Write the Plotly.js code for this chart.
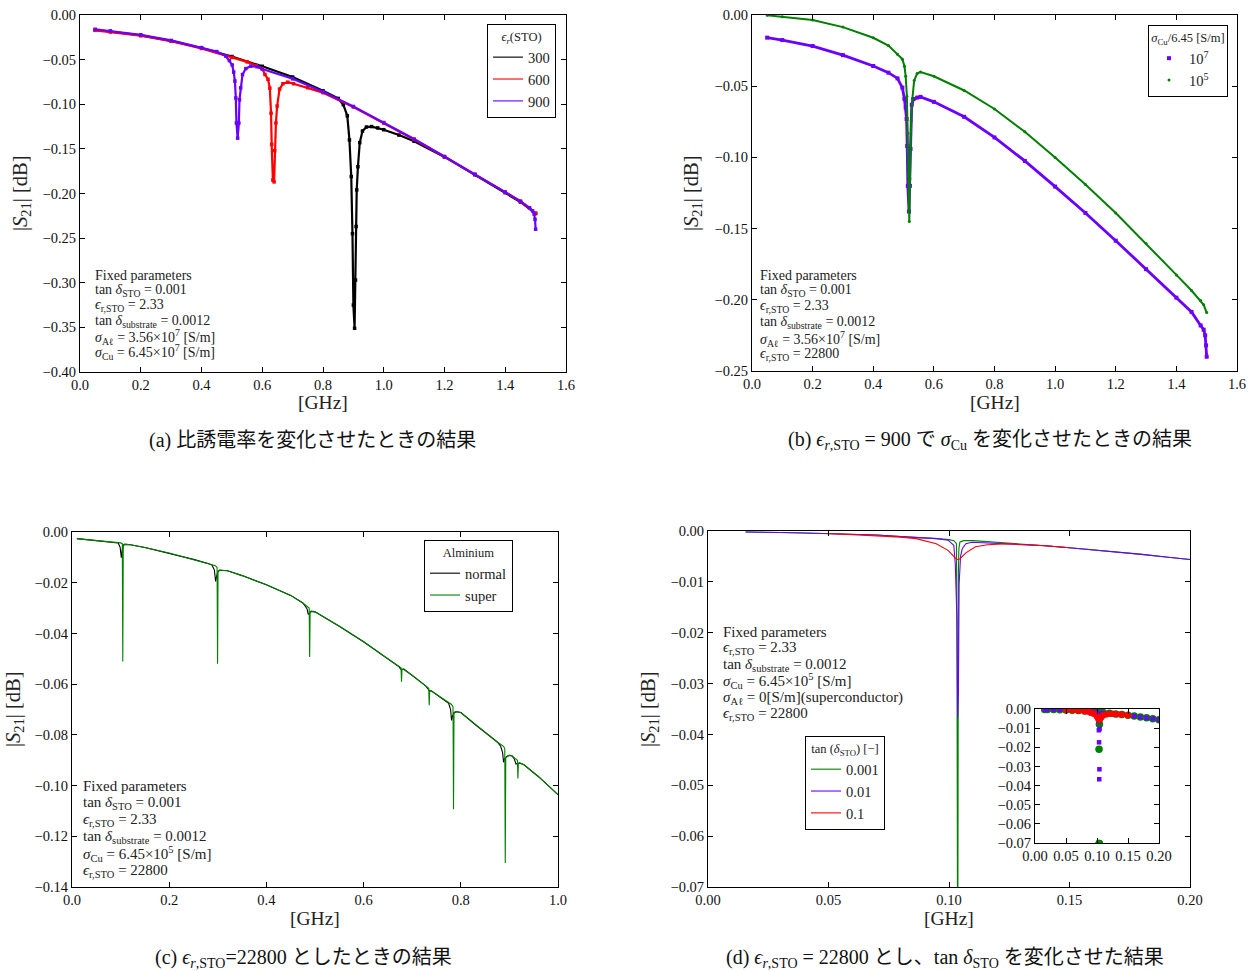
<!DOCTYPE html>
<html>
<head>
<meta charset="utf-8">
<script src="https://cdn.plot.ly/plotly-3.0.1.min.js"></script>
<style>
html,body{margin:0;padding:0;background:#fff;}
#chart{width:1253px;height:971px;}
</style>
</head>
<body>
<div id="chart"></div>
<script>
// ---------- Panel (a): varying eps_r(STO) ----------
const aBlackX = [0.05,0.1,0.2,0.3,0.4,0.5,0.6,0.7,0.8,0.85,0.867,0.880,0.887,0.893,0.897,0.900,0.904,0.907,0.909,0.911,0.915,0.921,0.930,0.943,0.960,0.980,1.0,1.05,1.1,1.2,1.3,1.4,1.45,1.5];
const aBlackY = [-0.0168,-0.0185,-0.0228,-0.0290,-0.0370,-0.0465,-0.0575,-0.0695,-0.0850,-0.0935,-0.1005,-0.1130,-0.1400,-0.1810,-0.2450,-0.3250,-0.3510,-0.2970,-0.2370,-0.1960,-0.1700,-0.1430,-0.1300,-0.1255,-0.1250,-0.1265,-0.1285,-0.1345,-0.1415,-0.1590,-0.1790,-0.1990,-0.2095,-0.2225];
const aRedX = [0.05,0.1,0.2,0.3,0.4,0.5,0.55,0.58,0.6,0.609,0.619,0.625,0.629,0.631,0.635,0.639,0.641,0.645,0.649,0.657,0.668,0.684,0.703,0.75,0.8,0.9,1.0,1.1,1.2,1.3,1.4,1.45,1.5];
const aRedY = [-0.0172,-0.0190,-0.0232,-0.0293,-0.0375,-0.0475,-0.0525,-0.0565,-0.0600,-0.0667,-0.0720,-0.0820,-0.1100,-0.1450,-0.1850,-0.1870,-0.1520,-0.1210,-0.1020,-0.0830,-0.0770,-0.0753,-0.0770,-0.0815,-0.0870,-0.1030,-0.1210,-0.1395,-0.1590,-0.1785,-0.1985,-0.2090,-0.2220];
const aPurpleX = [0.05,0.1,0.2,0.3,0.4,0.45,0.48,0.492,0.501,0.506,0.510,0.513,0.515,0.519,0.523,0.525,0.529,0.535,0.546,0.562,0.583,0.6,0.7,0.8,0.9,1.0,1.1,1.2,1.3,1.4,1.45,1.48,1.49,1.495,1.498,1.5];
const aPurpleY = [-0.0160,-0.0178,-0.0222,-0.0285,-0.0365,-0.0410,-0.0460,-0.0510,-0.0560,-0.0640,-0.0740,-0.0930,-0.1210,-0.1380,-0.1210,-0.0950,-0.0816,-0.0667,-0.0600,-0.0573,-0.0580,-0.0605,-0.0715,-0.0860,-0.1025,-0.1205,-0.1390,-0.1585,-0.1785,-0.1985,-0.2085,-0.2160,-0.2195,-0.2230,-0.2290,-0.2400];
const aNames = ['300','600','900'];

// ---------- Panel (b): eps=900, varying sigma_Cu ----------
const bPurpleX = [0.05,0.1,0.2,0.3,0.4,0.45,0.48,0.496,0.503,0.507,0.510,0.512,0.514,0.518,0.521,0.523,0.527,0.533,0.545,0.556,0.6,0.7,0.8,0.9,1.0,1.1,1.2,1.3,1.4,1.45,1.48,1.49,1.495,1.498,1.5];
const bPurpleY = [-0.0159,-0.0176,-0.0218,-0.0282,-0.0358,-0.0405,-0.0445,-0.0510,-0.0590,-0.0650,-0.0730,-0.0920,-0.1200,-0.1380,-0.1200,-0.0940,-0.0630,-0.0590,-0.0580,-0.0575,-0.0610,-0.0715,-0.0860,-0.1025,-0.1205,-0.1390,-0.1585,-0.1785,-0.1985,-0.2085,-0.2180,-0.2210,-0.2250,-0.2320,-0.2400];
const bGreenX = [0.05,0.1,0.2,0.3,0.4,0.45,0.48,0.496,0.503,0.507,0.511,0.514,0.516,0.519,0.521,0.523,0.525,0.529,0.535,0.545,0.556,0.6,0.7,0.8,0.9,1.0,1.1,1.2,1.3,1.4,1.45,1.48,1.49,1.5];
const bGreenY = [-0.0002,-0.0012,-0.0035,-0.0085,-0.0160,-0.0215,-0.0276,-0.0310,-0.0360,-0.0430,-0.0570,-0.0830,-0.1130,-0.1450,-0.1150,-0.0920,-0.0745,-0.0590,-0.0460,-0.0410,-0.0400,-0.0430,-0.0530,-0.0660,-0.0820,-0.1000,-0.1190,-0.1390,-0.1605,-0.1825,-0.1935,-0.2005,-0.2035,-0.2090];
const bNames = ['10<sup>7</sup>','10<sup>5</sup>'];

// ---------- Panel (c): eps=22800, normal vs super Al ----------
const cNormalX = [0.010,0.05,0.09,0.095,0.099,0.1015,0.1035,0.106,0.110,0.12,0.15,0.2,0.25,0.28,0.288,0.293,0.2955,0.2975,0.300,0.304,0.32,0.35,0.4,0.45,0.475,0.480,0.484,0.486,0.488,0.492,0.5,0.55,0.6,0.65,0.67,0.673,0.676,0.679,0.683,0.70,0.725,0.729,0.733,0.736,0.740,0.75,0.77,0.775,0.779,0.781,0.783,0.787,0.792,0.80,0.83,0.86,0.875,0.882,0.886,0.888,0.890,0.894,0.898,0.905,0.910,0.9135,0.916,0.920,0.93,0.96,1.0];
const cNormalY = [-0.0026,-0.0033,-0.0040,-0.0043,-0.0060,-0.0101,-0.0068,-0.0052,-0.0049,-0.0050,-0.0061,-0.0083,-0.0108,-0.0124,-0.0130,-0.0150,-0.0195,-0.0175,-0.0157,-0.0151,-0.0153,-0.0172,-0.0208,-0.0250,-0.0280,-0.0292,-0.0305,-0.0325,-0.0320,-0.0313,-0.0315,-0.0372,-0.0433,-0.0500,-0.0525,-0.0532,-0.0540,-0.0542,-0.0541,-0.0565,-0.0603,-0.0610,-0.0622,-0.0627,-0.0627,-0.0640,-0.0668,-0.0676,-0.0700,-0.0743,-0.0725,-0.0712,-0.0709,-0.0712,-0.0760,-0.0805,-0.0828,-0.0845,-0.0870,-0.0908,-0.0895,-0.0886,-0.0882,-0.0882,-0.0895,-0.0915,-0.0913,-0.0911,-0.0918,-0.0965,-0.1036];
const cSuperX = [0.010,0.05,0.09,0.100,0.1035,0.1045,0.1055,0.108,0.12,0.15,0.2,0.25,0.28,0.295,0.2985,0.2995,0.3005,0.303,0.32,0.35,0.4,0.45,0.475,0.485,0.488,0.489,0.490,0.493,0.5,0.55,0.6,0.65,0.67,0.675,0.677,0.678,0.679,0.681,0.70,0.725,0.732,0.734,0.735,0.736,0.738,0.75,0.77,0.781,0.784,0.785,0.786,0.789,0.80,0.83,0.86,0.875,0.888,0.8905,0.8915,0.8925,0.896,0.90,0.905,0.914,0.9165,0.9175,0.9185,0.921,0.93,0.96,1.0];
const cSuperY = [-0.0026,-0.0033,-0.0040,-0.0043,-0.0046,-0.0511,-0.0050,-0.0048,-0.0050,-0.0061,-0.0083,-0.0108,-0.0124,-0.0133,-0.0140,-0.0520,-0.0155,-0.0150,-0.0153,-0.0172,-0.0208,-0.0250,-0.0280,-0.0295,-0.0300,-0.0493,-0.0315,-0.0312,-0.0315,-0.0372,-0.0433,-0.0500,-0.0525,-0.0533,-0.0536,-0.0590,-0.0542,-0.0540,-0.0565,-0.0603,-0.0612,-0.0616,-0.0683,-0.0628,-0.0625,-0.0640,-0.0668,-0.0680,-0.0690,-0.1093,-0.0712,-0.0708,-0.0712,-0.0760,-0.0805,-0.0828,-0.0845,-0.0855,-0.1305,-0.0890,-0.0885,-0.0880,-0.0882,-0.0895,-0.0900,-0.0972,-0.0914,-0.0910,-0.0918,-0.0965,-0.1036];
const cNames = ['normal','super'];

// ---------- Panel (d): eps=22800, varying tan delta_STO ----------
const dGreenX = [0.0156,0.02,0.03,0.04,0.05,0.06,0.07,0.08,0.09,0.095,0.100,0.102,0.1031,0.1033,0.1035,0.1037,0.1039,0.1041,0.1045,0.106,0.11,0.12,0.13,0.14,0.15,0.16,0.17,0.18,0.19,0.20];
const dGreenY = [-0.0002,-0.0002,-0.0003,-0.0004,-0.0005,-0.0007,-0.0008,-0.0011,-0.0013,-0.0015,-0.0017,-0.0019,-0.0025,-0.0210,-0.0702,-0.0702,-0.0080,-0.0035,-0.0022,-0.0019,-0.0019,-0.0022,-0.0026,-0.0029,-0.0033,-0.0037,-0.0042,-0.0046,-0.0051,-0.0056];
const dBlueX = [0.0156,0.02,0.03,0.04,0.05,0.06,0.07,0.08,0.09,0.095,0.0996,0.102,0.1026,0.1030,0.1033,0.1036,0.1039,0.1042,0.1048,0.1055,0.107,0.1095,0.115,0.12,0.13,0.14,0.15,0.16,0.17,0.18,0.19,0.20];
const dBlueY = [-0.0002,-0.0002,-0.0003,-0.0004,-0.0005,-0.0007,-0.0008,-0.0011,-0.0013,-0.0015,-0.0018,-0.0028,-0.0064,-0.0111,-0.0174,-0.0367,-0.0315,-0.0104,-0.0050,-0.0035,-0.0025,-0.0022,-0.0023,-0.0024,-0.0026,-0.0029,-0.0033,-0.0037,-0.0042,-0.0046,-0.0051,-0.0056];
const dRedX = [0.05,0.06,0.07,0.08,0.0864,0.09,0.0947,0.0996,0.102,0.1032,0.1045,0.107,0.111,0.116,0.124,0.1325,0.14,0.15];
const dRedY = [-0.0005,-0.0007,-0.0009,-0.0012,-0.0015,-0.0019,-0.0025,-0.0038,-0.0050,-0.0056,-0.0055,-0.0043,-0.0031,-0.0027,-0.0025,-0.0027,-0.0029,-0.0033];
const dNames = ['0.001','0.01','0.1'];

// ---------- Texts ----------
const aNote = ['Fixed parameters','tan <i>δ</i><sub>STO</sub> = 0.001','<i>ϵ</i><sub>r,STO</sub> = 2.33','tan <i>δ</i><sub>substrate</sub> = 0.0012','<i>σ</i><sub>Aℓ</sub> = 3.56×10<sup>7</sup> [S/m]','<i>σ</i><sub>Cu</sub> = 6.45×10<sup>7</sup> [S/m]'];
const bNote = ['Fixed parameters','tan <i>δ</i><sub>STO</sub> = 0.001','<i>ϵ</i><sub>r,STO</sub> = 2.33','tan <i>δ</i><sub>substrate</sub> = 0.0012','<i>σ</i><sub>Aℓ</sub> = 3.56×10<sup>7</sup> [S/m]','<i>ϵ</i><sub>r,STO</sub> = 22800'];
const cNote = ['Fixed parameters','tan <i>δ</i><sub>STO</sub> = 0.001','<i>ϵ</i><sub>r,STO</sub> = 2.33','tan <i>δ</i><sub>substrate</sub> = 0.0012','<i>σ</i><sub>Cu</sub> = 6.45×10<sup>5</sup> [S/m]','<i>ϵ</i><sub>r,STO</sub> = 22800'];
const dNote = ['Fixed parameters','<i>ϵ</i><sub>r,STO</sub> = 2.33','tan <i>δ</i><sub>substrate</sub> = 0.0012','<i>σ</i><sub>Cu</sub> = 6.45×10<sup>5</sup> [S/m]','<i>σ</i><sub>Aℓ</sub> = 0[S/m](superconductor)','<i>ϵ</i><sub>r,STO</sub> = 22800'];
const captions = [
  '(a) 比誘電率を変化させたときの結果',
  '(b) <i>ϵ</i><sub><i>r</i>,STO</sub> = 900 で <i>σ</i><sub>Cu</sub> を変化させたときの結果',
  '(c) <i>ϵ</i><sub><i>r</i>,STO</sub>=22800 としたときの結果',
  '(d) <i>ϵ</i><sub><i>r</i>,STO</sub> = 22800 とし、tan <i>δ</i><sub>STO</sub> を変化させた結果'
];
const yTitle = '|<i>S</i><sub>21</sub>| [dB]';
const xTitle = '[GHz]';

// ---------- Layout helpers ----------
const W = 1253, H = 971;
const FONT = 'Liberation Serif, DejaVu Serif, Noto Sans CJK JP, serif';
const CAPFONT = 'Liberation Serif, Noto Sans CJK JP, serif';
const PURPLE = '#6a00ff', GREEN = '#007f00', RED = '#ff0000';
const dxp = (l, r) => [l / W, r / W];
const dyp = (t, b) => [1 - b / H, 1 - t / H];
function axis(domain, range, dtick, fmt, anchor) {
  return {domain, range, dtick, tick0: 0, tickformat: fmt, anchor,
    showline: true, linecolor: 'black', linewidth: 1, mirror: 'ticks',
    ticks: 'inside', ticklen: 5, tickwidth: 1, tickcolor: 'black',
    showgrid: false, zeroline: false, fixedrange: true,
    tickfont: {family: FONT, size: 14.5, color: '#111'}};
}
function ann(px, py, text, size, opts) {
  return Object.assign({xref: 'paper', yref: 'paper', x: px / W, y: 1 - py / H, text,
    showarrow: false, xanchor: 'left', yanchor: 'middle',
    font: {family: FONT, size: size, color: '#222'}}, opts || {});
}

const traces = [];
// (a)
const aX = [aBlackX, aRedX, aPurpleX], aY = [aBlackY, aRedY, aPurpleY], aC = ['black', RED, PURPLE];
for (let i = 0; i < 3; i++) {
  traces.push({x: aX[i], y: aY[i], xaxis: 'x', yaxis: 'y', mode: 'lines+markers', showlegend: false,
    line: {color: aC[i], width: 2.2}, marker: {symbol: 'square', size: 3.5, color: aC[i]}});
}
for (let i = 0; i < 3; i++) {
  traces.push({x: [null], y: [null], xaxis: 'x', yaxis: 'y', mode: 'lines', name: aNames[i], legend: 'legend',
    line: {color: aC[i], width: 1.5}, opacity: 0.75});
}
// (b)
traces.push({x: bPurpleX, y: bPurpleY, xaxis: 'x2', yaxis: 'y2', mode: 'lines+markers', showlegend: false,
  line: {color: PURPLE, width: 2.8}, marker: {symbol: 'square', size: 4, color: PURPLE}});
traces.push({x: bGreenX, y: bGreenY, xaxis: 'x2', yaxis: 'y2', mode: 'lines+markers', showlegend: false,
  line: {color: GREEN, width: 2}, marker: {symbol: 'circle', size: 3, color: GREEN}});
traces.push({x: [null], y: [null], xaxis: 'x2', yaxis: 'y2', mode: 'markers', name: bNames[0], legend: 'legend2',
  marker: {symbol: 'square', size: 4, color: PURPLE}});
traces.push({x: [null], y: [null], xaxis: 'x2', yaxis: 'y2', mode: 'markers', name: bNames[1], legend: 'legend2',
  marker: {symbol: 'circle', size: 3, color: GREEN}});
// (c)
traces.push({x: cNormalX, y: cNormalY, xaxis: 'x3', yaxis: 'y3', mode: 'lines', name: cNames[0], legend: 'legend3',
  line: {color: 'black', width: 1.1}});
traces.push({x: cSuperX, y: cSuperY, xaxis: 'x3', yaxis: 'y3', mode: 'lines', name: cNames[1], legend: 'legend3',
  line: {color: GREEN, width: 1.1}});
// (d) main
const dX = [dGreenX, dBlueX, dRedX], dY = [dGreenY, dBlueY, dRedY], dC = [GREEN, PURPLE, RED];
for (let i = 0; i < 3; i++) {
  traces.push({x: dX[i], y: dY[i], xaxis: 'x4', yaxis: 'y4', mode: 'lines', name: dNames[i], legend: 'legend4',
    line: {color: dC[i], width: 1.1}});
}
// (d) inset
const dSym = ['circle', 'square', 'circle'], dSize = [7.5, 4.5, 6.5];
for (let i = 0; i < 3; i++) {
  traces.push({x: dX[i], y: dY[i], xaxis: 'x5', yaxis: 'y5', mode: 'markers', showlegend: false,
    marker: {symbol: dSym[i], size: dSize[i], color: dC[i]}});
}

function legendCfg(x, y, xanchor, title) {
  return {x: x / W, y: 1 - y / H, xanchor, yanchor: 'top', xref: 'paper', yref: 'paper',
    bgcolor: 'white', bordercolor: 'black', borderwidth: 1,
    font: {family: FONT, size: 14.5, color: '#222'}, itemwidth: 30, tracegroupgap: 0,
    title: {text: title, side: 'top center', font: {family: FONT, size: 12.5, color: '#222'}}};
}

const annotations = [];
const noteCfg = [[aNote, 93, 275, 15.4, 14], [bNote, 758, 275, 15.9, 14], [cNote, 81, 786, 16.9, 15], [dNote, 721, 632, 16.4, 15]];
noteCfg.forEach(([lines, x0, y0, dyv, fs]) => lines.forEach((t, k) => annotations.push(ann(x0, y0 + k * dyv, t, fs))));
// axis titles
[[22, 193], [693, 193], [14, 709], [649, 709]].forEach(([x, y]) =>
  annotations.push(ann(x, y, yTitle, 20.5, {xanchor: 'center', textangle: -90})));
[[323, 403], [995, 403], [315, 918], [949, 918]].forEach(([x, y]) =>
  annotations.push(ann(x, y, xTitle, 19.5, {xanchor: 'center'})));
// captions
[[312, 441], [990, 441], [303, 958], [945, 958]].forEach(([x, y], k) =>
  annotations.push(ann(x, y, captions[k], 20, {xanchor: 'center', font: {family: CAPFONT, size: 20, color: '#111'}})));

const layout = {
  width: W, height: H, margin: {l: 0, r: 0, t: 0, b: 0},
  paper_bgcolor: 'white', plot_bgcolor: 'white', showlegend: true,
  xaxis: axis(dxp(80, 566), [0, 1.6], 0.2, '.1f', 'y'),
  yaxis: axis(dyp(15, 372), [-0.40, 0], 0.05, '.2f', 'x'),
  xaxis2: axis(dxp(752, 1237), [0, 1.6], 0.2, '.1f', 'y2'),
  yaxis2: axis(dyp(15, 371), [-0.25, 0], 0.05, '.2f', 'x2'),
  xaxis3: axis(dxp(72, 558), [0, 1.0], 0.2, '.1f', 'y3'),
  yaxis3: axis(dyp(532, 887), [-0.14, 0], 0.02, '.2f', 'x3'),
  xaxis4: axis(dxp(708, 1190), [0, 0.2], 0.05, '.2f', 'y4'),
  yaxis4: axis(dyp(531, 887), [-0.07, 0], 0.01, '.2f', 'x4'),
  xaxis5: axis(dxp(1035, 1159), [0, 0.2], 0.05, '.2f', 'y5'),
  yaxis5: axis(dyp(709, 843), [-0.07, 0], 0.01, '.2f', 'x5'),
  legend: legendCfg(556, 24, 'right', '<i>ϵ<sub>r</sub></i>(STO)'),
  legend2: legendCfg(1228, 25, 'right', '<i>σ</i><sub>Cu</sub>/6.45 [S/m]'),
  legend3: legendCfg(513, 540, 'right', 'Alminium'),
  legend4: legendCfg(805, 736, 'left', 'tan (<i>δ</i><sub>STO</sub>) [−]'),
  annotations
};

Plotly.newPlot('chart', traces, layout, {displayModeBar: false, staticPlot: true});
</script>
</body>
</html>
